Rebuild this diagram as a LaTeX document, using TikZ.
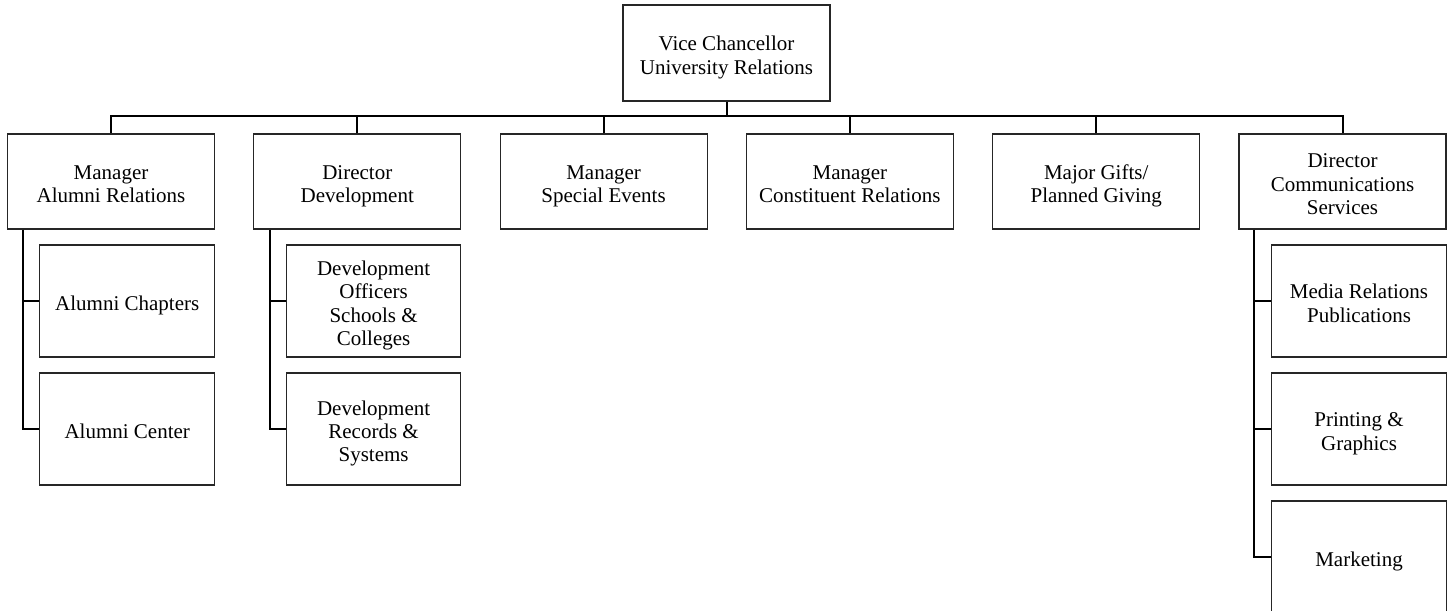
\documentclass[tikz,border=0pt]{standalone}
\usepackage{fontspec}
\setmainfont{Liberation Serif}
\newcommand\hiS{\rule{0pt}{23.6bp}}
\newcommand\loS{\rule[-4.6bp]{0pt}{4.6bp}}
\begin{document}
\begin{tikzpicture}[x=1bp,y=-1bp,
  box/.style={draw=black!85, line width=1.1bp, fill=white, align=center, inner sep=0pt,
    font=\fontsize{21bp}{23.2bp}\selectfont},
  mainbox/.style={box, minimum width=207bp, minimum height=95bp},
  subbox/.style={box, minimum width=174.5bp, minimum height=112bp},
  link/.style={draw=black, line width=2bp}]
\useasboundingbox (0,0) rectangle (1450,611);
\clip (0,0) rectangle (1450,611);
\node[mainbox, minimum height=96bp] (top) at (726.5,53) {\hiS Vice Chancellor\\University Relations\loS};
\node[mainbox] (n1) at (111,181.5) {\hiS Manager\\Alumni Relations\loS};
\node[mainbox] (n2) at (357.3,181.5) {\hiS Director\\Development\loS};
\node[mainbox] (n3) at (603.6,181.5) {\hiS Manager\\Special Events\loS};
\node[mainbox] (n4) at (849.9,181.5) {\hiS Manager\\Constituent Relations\loS};
\node[mainbox] (n5) at (1096.2,181.5) {\hiS Major Gifts/\\Planned Giving\loS};
\node[mainbox] (n6) at (1342.5,181.5) {\hiS Director\\Communications\\Services\loS};
\coordinate (bus) at (0,116);
\node[subbox] (a1) at (127.2,301) {\hiS Alumni Chapters\loS};
\node[subbox] (a2) at (127.2,429) {\hiS Alumni Center\loS};
\node[subbox] (d1) at (373.6,301) {\hiS Development\\Officers\\Schools \&\\Colleges\loS};
\node[subbox] (d2) at (373.6,429) {\hiS Development\\Records \&\\Systems\loS};
\node[subbox] (c1) at (1359,301) {\hiS Media Relations\\Publications\loS};
\node[subbox] (c2) at (1359,429) {\hiS Printing \&\\Graphics\loS};
\node[subbox] (c3) at (1359,557) {\hiS Marketing\loS};
% bus
\draw[link] (top.south) -- (top.south |- bus);
\draw[link] (n1.north) -- (n1.north |- bus) -- (n6.north |- bus) -- (n6.north);
\foreach \n in {n2,n3,n4,n5} \draw[link] (\n.north) -- (\n.north |- bus);
% sub connectors
\coordinate (v1) at ([xshift=16.5bp]n1.south west);
\coordinate (v2) at ([xshift=16.5bp]n2.south west);
\coordinate (v6) at ([xshift=15.5bp]n6.south west);
\draw[link] (v1) |- (a2.west);
\draw[link] (v1 |- a1.west) -- (a1.west);
\draw[link] (v2) |- (d2.west);
\draw[link] (v2 |- d1.west) -- (d1.west);
\draw[link] (v6) |- (c3.west);
\draw[link] (v6 |- c1.west) -- (c1.west);
\draw[link] (v6 |- c2.west) -- (c2.west);
\end{tikzpicture}
\end{document}
